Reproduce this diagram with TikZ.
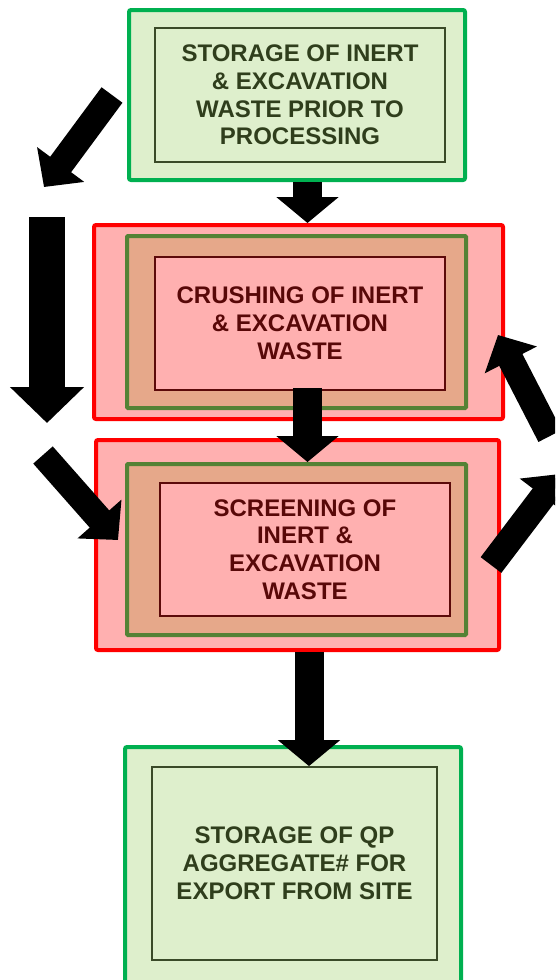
\documentclass[tikz,border=0pt]{standalone}
\usepackage{fontspec}
\setmainfont{Liberation Sans}
\usetikzlibrary{arrows.meta, positioning}
\definecolor{boxgreen}{HTML}{00B050}
\definecolor{palegreen}{HTML}{DEEFCC}
\definecolor{olivedark}{HTML}{3A4A28}
\definecolor{textgreen}{HTML}{2F3E1C}
\definecolor{pinkfill}{HTML}{FFB0B0}
\definecolor{midgreen}{HTML}{548235}
\definecolor{tanfill}{HTML}{E6A88A}
\definecolor{maroonline}{HTML}{5C0A0A}
\definecolor{maroontext}{HTML}{580808}

\begin{document}
\begin{tikzpicture}[x=1pt, y=-1pt,
    boxfont/.style={font=\fontsize{24}{27.8}\selectfont\bfseries, align=center},
    outgreen/.style={draw=boxgreen, line width=4pt, fill=palegreen, rounded corners=2pt, inner sep=0pt},
    ingreen/.style={draw=olivedark, line width=1.8pt, fill=palegreen, inner sep=0pt, text=textgreen, boxfont},
    outred/.style={draw=red, line width=4pt, fill=pinkfill, rounded corners=2pt, inner sep=0pt},
    midred/.style={draw=midgreen, line width=4pt, fill=tanfill, rounded corners=1pt, inner sep=0pt},
    inred/.style={draw=maroonline, line width=1.8pt, fill=pinkfill, inner sep=0pt, text=maroontext, boxfont},
    bigarrow/.style={line width=29pt, -{Triangle[width=61pt,length=26pt]}},
    sidearrow/.style={line width=26pt, -{Triangle[width=57pt,length=28pt]}}]
    \useasboundingbox (0,0) rectangle (555,980);
    \clip (0,0) rectangle (555,980);

    % storage before processing
    \node[outgreen, minimum width=336pt, minimum height=170pt] (storeOut) at (297,95) {};
    \node[ingreen, minimum width=290pt, minimum height=134pt] (store) at (300,95)
        {STORAGE OF INERT\\ \& EXCAVATION\\ WASTE PRIOR TO\\ PROCESSING};

    % crushing
    \node[outred, minimum width=409pt, minimum height=194pt] (crushOut) at (298.5,322) {};
    \node[midred, minimum width=339pt, minimum height=172pt] (crushMid) at (296.5,322) {};
    \node[inred, minimum width=290pt, minimum height=133pt] (crush) at (300,323.5)
        {CRUSHING OF INERT\\ \& EXCAVATION\\ WASTE};

    % screening
    \node[outred, minimum width=403pt, minimum height=210pt] (screenOut) at (297.5,545) {};
    \node[midred, minimum width=339pt, minimum height=171pt] (screenMid) at (296.5,549.5) {};
    \node[inred, minimum width=290pt, minimum height=133pt] (screen) at (305,549.5)
        {SCREENING OF\\ INERT \&\\ EXCAVATION\\ WASTE};

    % storage for export
    \node[outgreen, minimum width=336pt, minimum height=263pt] (exportOut) at (293,878.5) {};
    \node[ingreen, minimum width=285pt, minimum height=193pt] (export) at (294.5,863.5)
        {STORAGE OF QP\\ AGGREGATE\# FOR\\ EXPORT FROM SITE};

    % free ends of the side arrows
    \coordinate (leftTop) at (44,187);
    \coordinate (colTop) at (47,217);
    \coordinate (colEnd) at (47,423);
    \coordinate (leftLow) at (43,455);
    \coordinate (rightLow) at (560,474);
    \coordinate (rightUp) at (550,436);

    % main flow
    \draw[bigarrow] ([xshift=10.5]storeOut.south) -- ([xshift=9]crushOut.north);
    \draw[bigarrow] ([xshift=7.5,yshift=3]crush.south) -- ([xshift=11]screenMid.north);
    \draw[bigarrow] ([xshift=11.5]screenOut.south) -- ([xshift=14.5]export.north);

    % bypass on the left
    \draw[sidearrow] ([xshift=-15]storeOut.west) -- (leftTop);
    \draw[line width=36pt, -{Triangle[width=72pt,length=36pt]}] (colTop) -- (colEnd);
    \draw[sidearrow] (leftLow) -- ([xshift=-7,yshift=9.5]screenMid.west);

    % recirculation on the right
    \draw[sidearrow] ([xshift=-10,yshift=-20]screenOut.east) -- (rightLow);
    \draw[sidearrow] (rightUp) -- ([xshift=-7,yshift=-13]crushOut.east);
\end{tikzpicture}
\end{document}
